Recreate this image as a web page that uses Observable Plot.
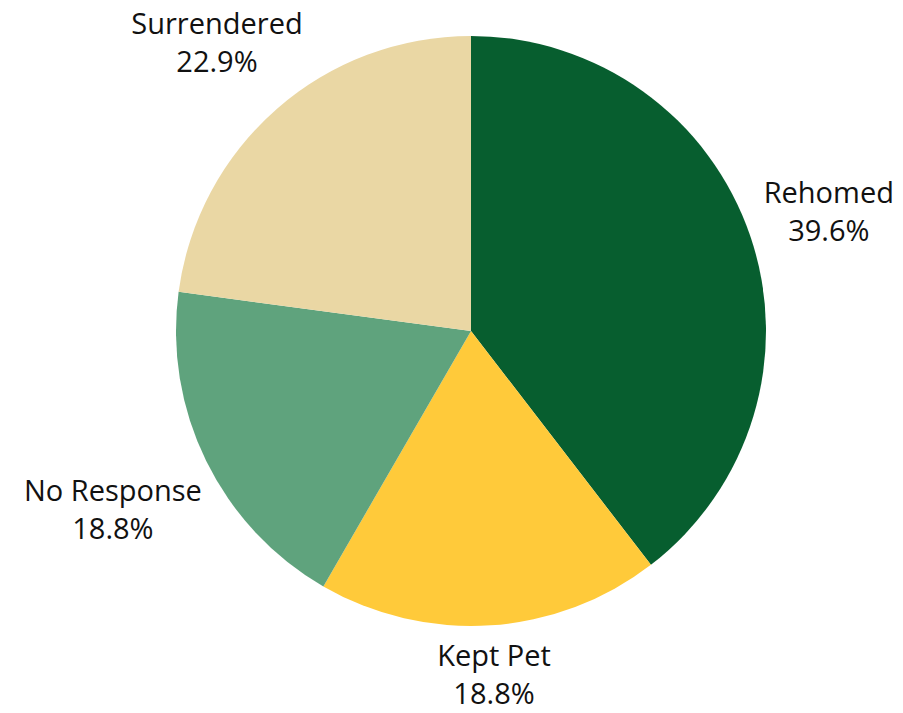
<!DOCTYPE html>
<html>
<head>
<meta charset="utf-8">
<script src="https://cdn.jsdelivr.net/npm/d3@7"></script>
<script src="https://cdn.jsdelivr.net/npm/@observablehq/plot@0.6"></script>
<style>
  html, body { margin: 0; padding: 0; background: #fff; }
  #chart svg { display: block; }
</style>
</head>
<body>
<div id="chart"></div>
<script>
// ---- Data ----
const categories = ["Rehomed", "Kept Pet", "No Response", "Surrendered"];
const shares = [39.6, 18.8, 18.8, 22.9];
const shareLabels = ["39.6%", "18.8%", "18.8%", "22.9%"];
const colors = ["#075E2F", "#FFCA3A", "#5FA37D", "#EAD7A4"];

// ---- Layout ----
const W = 903, H = 713;
const CX = 471, CY = 331, R = 295;
const FONT = "Open Sans";
const FS = 29, LH = 1.3, PAD = 10;

const data = categories.map((c, i) => ({category: c, value: shares[i], label: shareLabels[i], color: colors[i]}));
const arcs = d3.pie().sort(null).value(d => d.value)(data);

// measure text for label placement
const ctx = document.createElement("canvas").getContext("2d");
ctx.font = `${FS}px "${FONT}"`;
const labelData = arcs.map(a => {
  const mid = (a.startAngle + a.endAngle) / 2;
  const s = Math.sin(mid), c = Math.cos(mid);
  const w = Math.max(ctx.measureText(a.data.category).width, ctx.measureText(a.data.label).width);
  const h = FS * (1 + LH);
  const dist = R + PAD + Math.abs(s) * w / 2 + Math.abs(c) * h / 2;
  return {x: s * dist / R, y: c * dist / R, text: a.data.category + "\n" + a.data.label};
});

const pieMark = (index, scales) => {
  const x0 = scales.x(0), y0 = scales.y(0);
  const r = scales.x(1) - scales.x(0);
  const g = d3.create("svg:g").attr("transform", `translate(${x0},${y0})`);
  const arc = d3.arc().innerRadius(0).outerRadius(r);
  g.selectAll("path").data(arcs).join("path")
    .attr("d", arc)
    .attr("fill", d => d.data.color);
  return g.node();
};

const chart = Plot.plot({
  width: W,
  height: H,
  margin: 0,
  style: {fontFamily: FONT, background: "#fff"},
  x: {domain: [-CX / R, (W - CX) / R], range: [0, W], axis: null},
  y: {domain: [CY / R, -(H - CY) / R], range: [0, H], axis: null},
  marks: [
    pieMark,
    Plot.text(labelData, {
      x: "x", y: "y", text: "text",
      fontSize: FS, lineHeight: LH,
      textAnchor: "middle", lineAnchor: "middle",
      fill: "#111"
    })
  ]
});
document.getElementById("chart").appendChild(chart);
</script>
</body>
</html>
